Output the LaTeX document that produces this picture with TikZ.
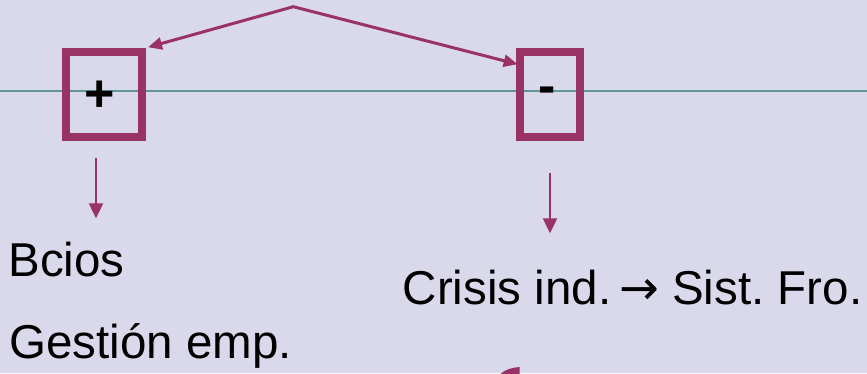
\documentclass[tikz,border=0pt]{standalone}
\usepackage{fontspec}
\setmainfont{Liberation Sans}
\newfontfamily\arrowfont{DejaVu Sans}
\usetikzlibrary{arrows.meta,positioning,calc}
\definecolor{lavbg}{RGB}{217,217,235}
\definecolor{plum}{RGB}{153,51,102}
\definecolor{tealline}{RGB}{96,152,152}
\frenchspacing
\tikzset{
  signbox/.style={draw=plum,line width=8pt,inner sep=0pt,minimum height=84.7pt},
  sign/.style={font=\fontsize{52}{54}\selectfont\bfseries,inner sep=0pt},
  txt/.style={font=\fontsize{47.5}{50}\selectfont,inner sep=0pt,anchor=base west},
  downarr/.style={plum,line width=2.2pt,-{Triangle[length=15pt,width=14pt]}},
  toparr/.style={plum,line width=3pt,line join=miter,{Triangle[length=14pt,width=12pt]}-{Triangle[length=14pt,width=12pt]}}
}
\begin{document}
\begin{tikzpicture}[x=1pt,y=-1pt]
\fill[lavbg] (0,0) rectangle (867,373);
\useasboundingbox (0,0) rectangle (867,373);
\draw[tealline,line width=1.6pt] (0,90.7) -- (867,90.7);
% the two boxes
\node[signbox,minimum width=76pt] (pos) at (104,94.6) {};
\node[signbox,minimum width=60.5pt] (neg) at (549.9,94.6) {};
\node[sign] (plus) at (99.3,96.7) {+};
\node[sign] (minus) at (546.7,95.7) {-};
% top connector
\coordinate (apex) at (293.3,6.7);
\draw[toparr] ([shift={(2,-1)}]pos.north east) -- (apex) -- ([shift={(2,16)}]neg.north west);
% down arrows
\coordinate (posdown) at (96,158.3);
\coordinate (posend) at (96,218.3);
\coordinate (negdown) at (550,173.3);
\coordinate (negend) at (550,233.3);
\draw[downarr] (posdown) -- (posend);
\draw[downarr] (negdown) -- (negend);
% texts
\node[txt] (bcios) at (8.2,276) {Bcios};
\node[txt] (gestion) at (9.4,358) {Gestión emp.};
\node[txt] (crisis) at (402.6,304) {Crisis ind.\,{\arrowfont →} Sist. Fro.};
% cut-off shape at the bottom
\fill[plum] (519.5,367) -- (519.5,374) -- (500.5,374) .. controls (505,369.5) and (512,367.5) .. cycle;
\end{tikzpicture}
\end{document}
